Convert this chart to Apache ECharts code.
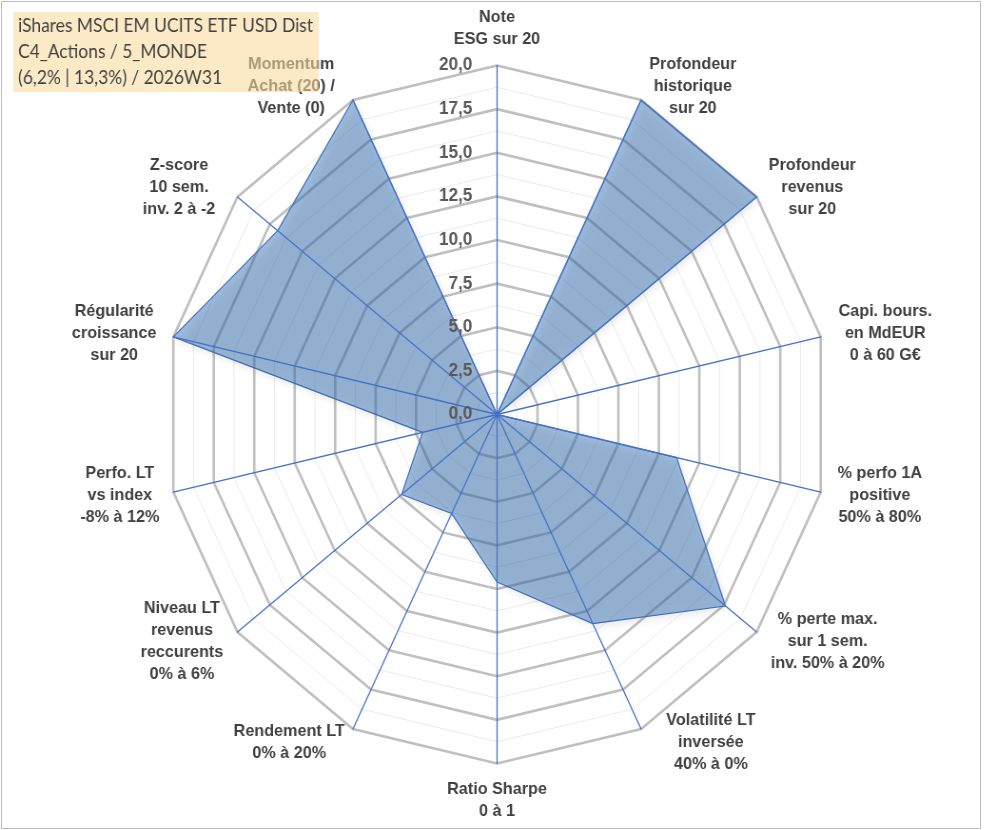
<!DOCTYPE html>
<html>
<head>
<meta charset="utf-8">
<script src="https://cdn.jsdelivr.net/npm/echarts@6/dist/echarts.min.js"></script>
<style>
html,body{margin:0;padding:0;background:#ffffff;overflow:hidden;}
#wrap{position:absolute;left:0;top:0;width:991px;height:830px;overflow:hidden;background:#fff;}
#chart{position:absolute;left:0;top:0;width:1042px;height:830px;transform:scaleX(0.9513);transform-origin:0 0;}
#frame{position:absolute;left:1px;top:1px;width:978px;height:826px;border:1px solid #BDBDBD;pointer-events:none;}
</style>
</head>
<body>
<div id="wrap"><div id="chart"></div><div id="frame"></div></div>
<script>
// ---- data (clockwise from the top axis) ----
const categories = [
  "Note\nESG sur 20",
  "Profondeur\nhistorique\nsur 20",
  "Profondeur\nrevenus\nsur 20",
  "Capi. bours.\nen MdEUR\n0 à 60 G€",
  "% perfo 1A\npositive\n50% à 80%",
  "% perte max.\nsur 1 sem.\ninv. 50% à 20%",
  "Volatilité LT\ninversée\n40% à 0%",
  "Ratio Sharpe\n0 à 1",
  "Rendement LT\n0% à 20%",
  "Niveau LT\nrevenus\nreccurents\n0% à 6%",
  "Perfo. LT\nvs index\n-8% à 12%",
  "Régularité\ncroissance\nsur 20",
  "Z-score\n10 sem.\ninv. 2 à -2",
  "Momentum\nAchat (20) /\nVente (0)"
];
const values = [0, 20, 20, 0, 11.1, 17.6, 13.3, 9.6, 6.3, 7.35, 4.6, 20, 16.9, 20];
const axisMin = 0;
const axisMax = 20;
const tickStep = 2.5;
const titleLines = [
  "iShares MSCI EM UCITS ETF USD Dist",
  "C4_Actions / 5_MONDE",
  "(6,2% | 13,3%) / 2026W31"
];

// ---- layout / style ----
const S = 0.9513;           // horizontal squeeze of the picture
const CX = 497 / S, CY = 414.5, R = 349;
// small horizontal nudges of the axis-name blocks (screen px, + = right)
const nameNudge = [0, 2, 1, 4, 3, 3, 19, 0, -2, -3, 0, -3, -11, -12];
const n = categories.length;
// ECharts radar runs counter-clockwise: reorder so the picture reads clockwise
const order = [0];
for (let i = n - 1; i >= 1; i--) order.push(i);
const indicator = order.map(i => ({ name: categories[i], min: axisMin, max: axisMax }));
const seriesData = order.map(i => values[i]);

const nameFont = 'Liberation Sans, Arial, sans-serif';
const txt = { color: '#404040', fontFamily: nameFont, fontWeight: 'bold', fontSize: 17, lineHeight: 22 };
const rich = { c: Object.assign({ align: 'center' }, txt) };
nameNudge.forEach((d, i) => {
  rich['s' + i] = Object.assign({}, txt, { width: Math.abs(d) / S, align: d >= 0 ? 'left' : 'right' });
});

const baseRadar = {
  center: [CX, CY], radius: R, startAngle: 90, shape: 'polygon', indicator: indicator,
  axisName: { show: false }, axisLine: { show: false }, axisTick: { show: false },
  axisLabel: { show: false }, splitArea: { show: false }, splitLine: { show: false }
};

const chart = echarts.init(document.getElementById('chart'), null, { renderer: 'canvas' });
chart.setOption({
  animation: false,
  backgroundColor: 'transparent',
  title: {
    text: titleLines.join('\n'),
    left: 14, top: 12,
    padding: [1, 6, 1, 5],
    backgroundColor: 'rgba(250,219,157,0.58)',
    z: 10,
    textStyle: { fontFamily: 'Lato, sans-serif', fontWeight: 'normal', fontSize: 18.3, lineHeight: 26, color: '#404040' }
  },
  radar: [
    Object.assign({}, baseRadar, {
      splitNumber: 16, z: 0,
      splitLine: { show: true, lineStyle: { color: '#EAEAEA', width: 1 } }
    }),
    Object.assign({}, baseRadar, {
      splitNumber: 8, z: 1,
      splitLine: { show: true, lineStyle: { color: '#BFBFBF', width: 2.6 } },
      nameGap: 15,
      axisName: Object.assign({
        show: true,
        formatter: function (name) {
          const i = categories.indexOf(name);
          const d = nameNudge[i] || 0;
          return name.split('\n').map(l => {
            if (d > 0) return '{s' + i + '|\u00a0}{c|' + l + '}';
            if (d < 0) return '{c|' + l + '}{s' + i + '|\u00a0}';
            return '{c|' + l + '}';
          }).join('\n');
        },
        rich: rich
      }, txt)
    }),
    Object.assign({}, baseRadar, {
      splitNumber: 8, z: 3,
      axisLine: { show: true, lineStyle: { color: '#4472C4', width: 1.3 } }
    })
  ],
  polar: { center: [CX, CY], radius: R },
  angleAxis: { show: false, type: 'value', min: 0, max: 360, startAngle: 90 },
  radiusAxis: {
    type: 'value', min: axisMin, max: axisMax, interval: tickStep, z: 5,
    axisLine: { show: false }, axisTick: { show: false }, splitLine: { show: false },
    axisLabel: {
      show: true, margin: 26, color: '#595959', fontFamily: nameFont, fontWeight: 'bold', fontSize: 18,
      formatter: v => v.toFixed(1).replace('.', ',')
    }
  },
  series: [{
    type: 'radar', radarIndex: 1, z: 2, symbol: 'none',
    lineStyle: { color: '#4472C4', width: 1.2 },
    areaStyle: { color: 'rgba(48,110,180,0.65)', shadowColor: 'rgba(0,0,0,0.22)', shadowBlur: 8, shadowOffsetX: 2, shadowOffsetY: 3 },
    data: [{ value: seriesData, name: titleLines[0] }]
  }]
});
</script>
</body>
</html>
